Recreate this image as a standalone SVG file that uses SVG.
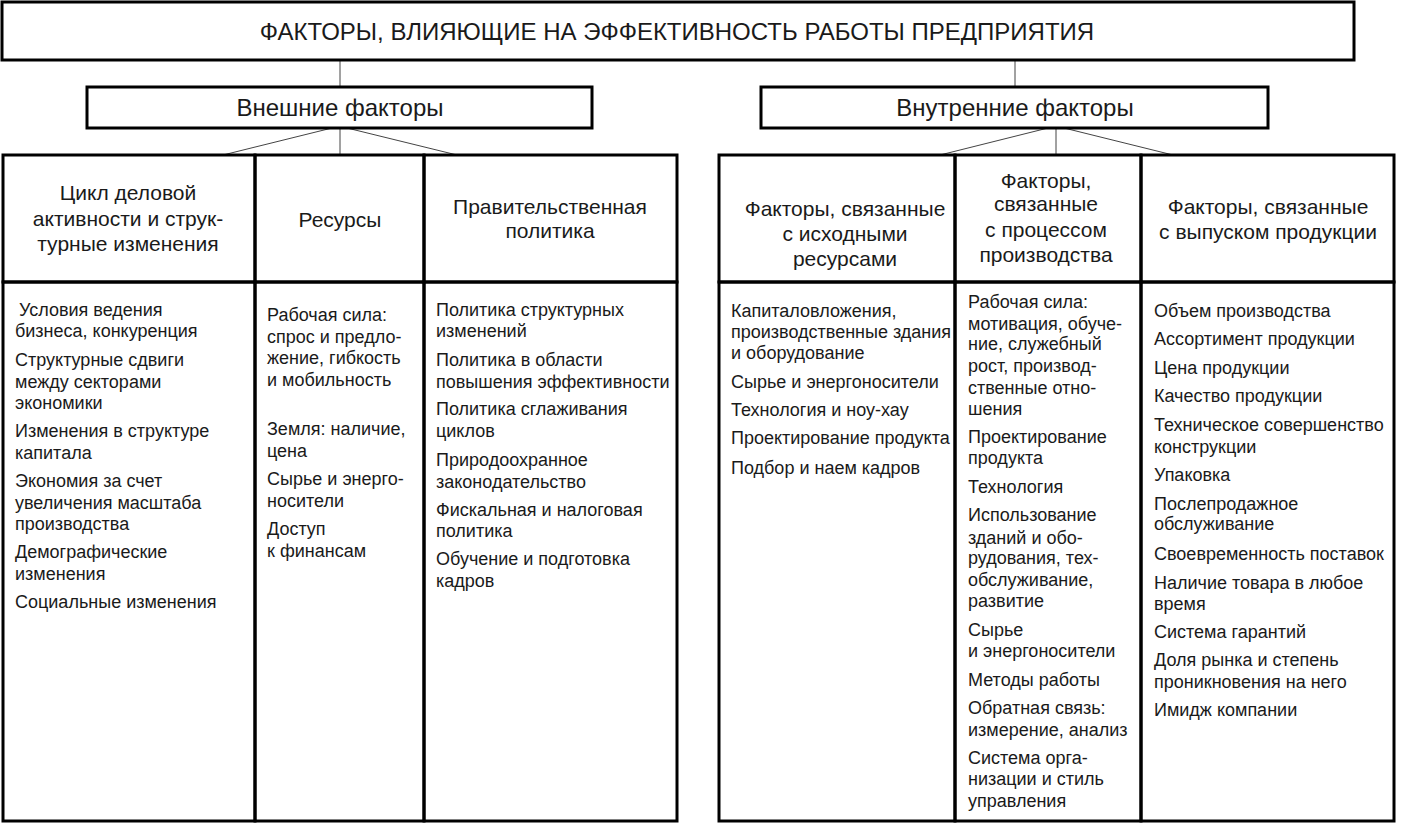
<svg xmlns="http://www.w3.org/2000/svg" width="1422" height="829" viewBox="0 0 1422 829">
<style>
text{font-family:"Liberation Sans",Arial,sans-serif;fill:#1a1a1a}
.box{fill:#fff;stroke:#000;stroke-width:3}
.cell{fill:none;stroke:#000;stroke-width:3}
.t{font-size:24px;text-anchor:middle}
.h{font-size:21px;text-anchor:middle}
.b{font-size:18px}
.c{stroke:#444;stroke-width:1;fill:none}
</style>
<rect width="1422" height="829" fill="#fff"/>
<g id="connectors">
<line class="c" x1="340" y1="60" x2="340" y2="87"/>
<line class="c" x1="1015" y1="60" x2="1015" y2="87"/>
<line class="c" x1="340" y1="128" x2="340" y2="155"/>
<line class="c" x1="332" y1="128" x2="223" y2="155"/>
<line class="c" x1="347" y1="128" x2="457" y2="155"/>
<line class="c" x1="1056" y1="128" x2="1056" y2="155"/>
<line class="c" x1="1048" y1="128" x2="940" y2="155"/>
<line class="c" x1="1064" y1="128" x2="1173" y2="155"/>
</g>
<g id="title">
<rect class="box" x="2" y="2" width="1352" height="58"/>
<text class="t" x="677" y="40">ФАКТОРЫ, ВЛИЯЮЩИЕ НА ЭФФЕКТИВНОСТЬ РАБОТЫ ПРЕДПРИЯТИЯ</text>
</g>
<g id="external">
<rect class="box" x="87" y="87" width="505" height="41"/>
<text class="t" x="340" y="116">Внешние факторы</text>
</g>
<g id="internal">
<rect class="box" x="761" y="87" width="507" height="41"/>
<text class="t" x="1015" y="116">Внутренние факторы</text>
</g>
<g id="ext-cycle">
<rect class="cell" x="3" y="155" width="252" height="127"/>
<rect class="cell" x="3" y="282" width="252" height="539"/>
<text class="h" x="128" y="200">Цикл деловой</text>
<text class="h" x="128" y="226">активности и струк-</text>
<text class="h" x="128" y="251">турные изменения</text>
<text class="b" x="19" y="315.5">Условия ведения</text>
<text class="b" x="15" y="336.5">бизнеса, конкуренция</text>
<text class="b" x="15" y="365.5">Структурные сдвиги</text>
<text class="b" x="15" y="387.5">между секторами</text>
<text class="b" x="15" y="408.5">экономики</text>
<text class="b" x="15" y="436.5">Изменения в структуре</text>
<text class="b" x="15" y="458.5">капитала</text>
<text class="b" x="15" y="486.5">Экономия за счет</text>
<text class="b" x="15" y="508.5">увеличения масштаба</text>
<text class="b" x="15" y="529.5">производства</text>
<text class="b" x="15" y="557.5">Демографические</text>
<text class="b" x="15" y="579.5">изменения</text>
<text class="b" x="15" y="607.5">Социальные изменения</text>
</g>
<g id="ext-resources">
<rect class="cell" x="255" y="155" width="169" height="127"/>
<rect class="cell" x="255" y="282" width="169" height="539"/>
<text class="h" x="340" y="227">Ресурсы</text>
<text class="b" x="267" y="320.5">Рабочая сила:</text>
<text class="b" x="267" y="342.5">спрос и предло-</text>
<text class="b" x="267" y="363.5">жение, гибкость</text>
<text class="b" x="267" y="385.5">и мобильность</text>
<text class="b" x="267" y="434.5">Земля: наличие,</text>
<text class="b" x="267" y="456.5">цена</text>
<text class="b" x="267" y="484.5">Сырье и энерго-</text>
<text class="b" x="267" y="506.5">носители</text>
<text class="b" x="267" y="534.5">Доступ</text>
<text class="b" x="267" y="556.5">к финансам</text>
</g>
<g id="ext-policy">
<rect class="cell" x="424" y="155" width="253" height="127"/>
<rect class="cell" x="424" y="282" width="253" height="539"/>
<text class="h" x="550" y="214">Правительственная</text>
<text class="h" x="550" y="238">политика</text>
<text class="b" x="436" y="315.5">Политика структурных</text>
<text class="b" x="436" y="336.5">изменений</text>
<text class="b" x="436" y="365.5">Политика в области</text>
<text class="b" x="436" y="387.5">повышения эффективности</text>
<text class="b" x="436" y="414.5">Политика сглаживания</text>
<text class="b" x="436" y="436.5">циклов</text>
<text class="b" x="436" y="465.5">Природоохранное</text>
<text class="b" x="436" y="487.5">законодательство</text>
<text class="b" x="436" y="515.5">Фискальная и налоговая</text>
<text class="b" x="436" y="536.5">политика</text>
<text class="b" x="436" y="564.5">Обучение и подготовка</text>
<text class="b" x="436" y="586.5">кадров</text>
</g>
<g id="int-inputs">
<rect class="cell" x="719" y="155" width="236" height="127"/>
<rect class="cell" x="719" y="282" width="236" height="539"/>
<text class="h" x="845" y="216">Факторы, связанные</text>
<text class="h" x="845" y="241">с исходными</text>
<text class="h" x="845" y="266">ресурсами</text>
<text class="b" x="731" y="316.5">Капиталовложения,</text>
<text class="b" x="731" y="337.5">производственные здания</text>
<text class="b" x="731" y="358.5">и оборудование</text>
<text class="b" x="731" y="387.5">Сырье и энергоносители</text>
<text class="b" x="731" y="415.5">Технология и ноу-хау</text>
<text class="b" x="731" y="443.5">Проектирование продукта</text>
<text class="b" x="731" y="473.5">Подбор и наем кадров</text>
</g>
<g id="int-process">
<rect class="cell" x="955" y="155" width="186" height="127"/>
<rect class="cell" x="955" y="282" width="186" height="539"/>
<text class="h" x="1046" y="188">Факторы,</text>
<text class="h" x="1046" y="211">связанные</text>
<text class="h" x="1046" y="237">с процессом</text>
<text class="h" x="1046" y="262">производства</text>
<text class="b" x="968" y="307.5">Рабочая сила:</text>
<text class="b" x="968" y="329.5">мотивация, обуче-</text>
<text class="b" x="968" y="349.5">ние, служебный</text>
<text class="b" x="968" y="371.5">рост, производ-</text>
<text class="b" x="968" y="393.5">ственные отно-</text>
<text class="b" x="968" y="414.5">шения</text>
<text class="b" x="968" y="442.5">Проектирование</text>
<text class="b" x="968" y="463.5">продукта</text>
<text class="b" x="968" y="492.5">Технология</text>
<text class="b" x="968" y="520.5">Использование</text>
<text class="b" x="968" y="543.5">зданий и обо-</text>
<text class="b" x="968" y="563.5">рудования, тех-</text>
<text class="b" x="968" y="585.5">обслуживание,</text>
<text class="b" x="968" y="606.5">развитие</text>
<text class="b" x="968" y="635.5">Сырье</text>
<text class="b" x="968" y="656.5">и энергоносители</text>
<text class="b" x="968" y="685.5">Методы работы</text>
<text class="b" x="968" y="713.5">Обратная связь:</text>
<text class="b" x="968" y="735.5">измерение, анализ</text>
<text class="b" x="968" y="763.5">Система орга-</text>
<text class="b" x="968" y="784.5">низации и стиль</text>
<text class="b" x="968" y="806.5">управления</text>
</g>
<g id="int-output">
<rect class="cell" x="1141" y="155" width="253" height="127"/>
<rect class="cell" x="1141" y="282" width="253" height="539"/>
<text class="h" x="1268" y="214">Факторы, связанные</text>
<text class="h" x="1268" y="239">с выпуском продукции</text>
<text class="b" x="1154" y="316.5">Объем производства</text>
<text class="b" x="1154" y="344.5">Ассортимент продукции</text>
<text class="b" x="1154" y="373.5">Цена продукции</text>
<text class="b" x="1154" y="401.5">Качество продукции</text>
<text class="b" x="1154" y="430.5">Техническое совершенство</text>
<text class="b" x="1154" y="452.5">конструкции</text>
<text class="b" x="1154" y="480.5">Упаковка</text>
<text class="b" x="1154" y="509.5">Послепродажное</text>
<text class="b" x="1154" y="529.5">обслуживание</text>
<text class="b" x="1154" y="559.5">Своевременность поставок</text>
<text class="b" x="1154" y="588.5">Наличие товара в любое</text>
<text class="b" x="1154" y="609.5">время</text>
<text class="b" x="1154" y="637.5">Система гарантий</text>
<text class="b" x="1154" y="665.5">Доля рынка и степень</text>
<text class="b" x="1154" y="687.5">проникновения на него</text>
<text class="b" x="1154" y="715.5">Имидж компании</text>
</g>
</svg>
